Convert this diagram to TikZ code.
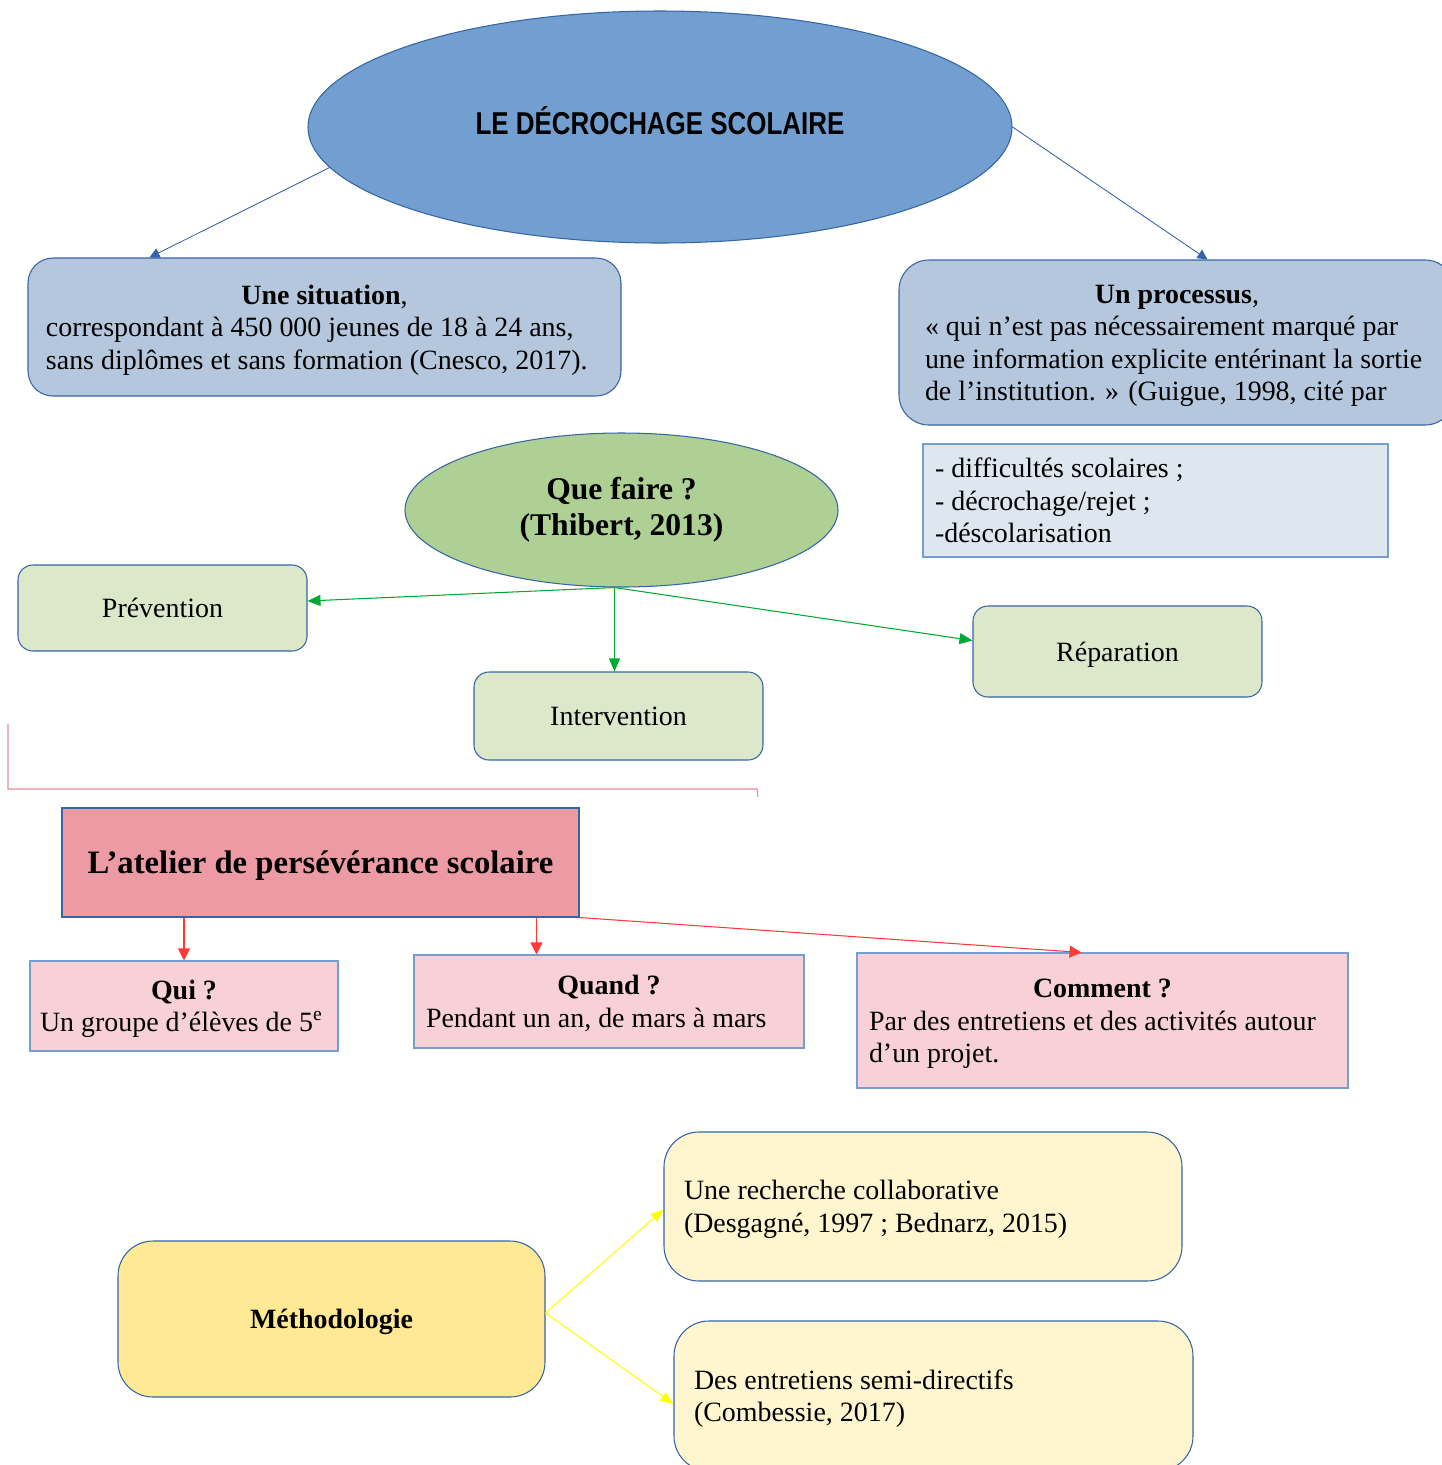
\documentclass[tikz,border=0pt]{standalone}
\usepackage{fontspec}
\setmainfont{Liberation Serif}
\newfontfamily\titlefont[FakeStretch=0.82]{Liberation Sans}
\usepackage{tikz}
\usetikzlibrary{calc,shapes.geometric,arrows.meta}
\definecolor{linkblue}{RGB}{52,101,164}
\definecolor{titleblue}{RGB}{114,159,207}
\definecolor{situationblue}{RGB}{180,199,220}
\definecolor{listblue}{RGB}{222,230,239}
\definecolor{qfgreen}{RGB}{175,208,149}
\definecolor{actiongreen}{RGB}{221,232,203}
\definecolor{arrowgreen}{RGB}{0,169,51}
\definecolor{atelierred}{RGB}{236,155,164}
\definecolor{questionpink}{RGB}{247,209,213}
\definecolor{arrowred}{RGB}{255,56,56}
\definecolor{strayred}{RGB}{228,140,150}
\definecolor{methodyellow}{RGB}{255,233,148}
\definecolor{sourceyellow}{RGB}{255,245,206}
\definecolor{arrowyellow}{RGB}{255,255,0}
\newlength\px
\setlength\px{0.02cm}

\begin{document}
\begin{tikzpicture}[x=0.02cm,y=-0.02cm,
    struts/.style={execute at begin node={\rule{0pt}{0.9em}},
      execute at end node={\rule[-0.22em]{0pt}{0pt}}},
    body/.style={font=\fontsize{15.9}{18.5}\selectfont,struts},
    textbox/.style={body,draw=linkblue,line width=0.6pt,align=flush left,inner ysep=0pt},
    actionbox/.style={body,draw=linkblue,line width=0.6pt,fill=actiongreen,
      rounded corners=0.3cm,minimum width=289*\px,align=center},
    questionbox/.style={textbox,draw=titleblue,fill=questionpink,inner xsep=12*\px},
    sourcebox/.style={textbox,fill=sourceyellow,rounded corners=0.7cm,
      minimum width=518*\px,minimum height=149*\px,text width=478*\px,inner xsep=20*\px},
    bluelink/.style={draw=linkblue,line width=0.5pt,-{Triangle[length=0.2cm,width=0.2cm]}},
    greenlink/.style={draw=arrowgreen,line width=0.6pt,-{Triangle[length=0.26cm,width=0.22cm]}},
    redlink/.style={draw=arrowred,line width=0.6pt,-{Triangle[length=0.24cm,width=0.24cm]}},
    yellowlink/.style={draw=arrowyellow,line width=0.6pt,-{Triangle[length=0.26cm,width=0.2cm]}}]
    \useasboundingbox (0,0) rectangle (1442,1465);

    % definition
    \node[ellipse,draw=linkblue,line width=0.6pt,fill=titleblue,
      minimum width=704*\px,minimum height=232*\px,
      font=\titlefont\bfseries\fontsize{18}{20}\selectfont] (titre) at (660,127)
      {\raisebox{13\px}{LE DÉCROCHAGE SCOLAIRE}};
    \node[textbox,fill=situationblue,rounded corners=0.5cm,
      minimum width=593*\px,minimum height=138*\px,text width=557*\px,inner xsep=18*\px]
      (situation) at (324.5,327)
      {{\centering\textbf{Une situation},\par}
       correspondant à 450 000 jeunes de 18 à 24 ans,\\
       sans diplômes et sans formation (Cnesco, 2017).};
    \node[textbox,fill=situationblue,rounded corners=0.6cm,
      minimum width=556*\px,minimum height=165*\px,text width=504*\px,inner xsep=26*\px]
      (processus) at (1177,342.5)
      {{\centering\textbf{Un processus},\par}
       « qui n’est pas nécessairement marqué par\\
       une information explicite entérinant la sortie\\
       de l’institution. » (Guigue, 1998, cité par};
    \node[textbox,draw=titleblue,fill=listblue,
      minimum width=465*\px,minimum height=113*\px,text width=441*\px,inner xsep=12*\px]
      (etapes) at (1155.5,500.5)
      {- difficultés scolaires ;\\
       - décrochage/rejet ;\\
       -déscolarisation};

    \draw[bluelink] (titre.187) -- ($(situation.north west)+(122,0)$);
    \draw[bluelink] (titre.east) -- ($(processus.north west)+(309,0)$);

    % que faire
    \node[ellipse,draw=linkblue,line width=0.6pt,fill=qfgreen,struts,
      minimum width=433*\px,minimum height=154*\px,align=center,
      font=\bfseries\fontsize{18}{20.5}\selectfont] (quefaire) at (621.5,510)
      {Que faire ?\\(Thibert, 2013)};
    \node[actionbox,minimum height=86*\px] (prevention) at (162.5,608) {Prévention};
    \node[actionbox,minimum height=88*\px] (intervention) at (618.5,716) {Intervention};
    \node[actionbox,minimum height=91*\px] (reparation) at (1117.5,651.5) {Réparation};

    \coordinate (depart) at ($(quefaire.south)+(-7,0)$);
    \draw[greenlink] (depart) -- ($(prevention.east)+(0,-7)$);
    \draw[greenlink] (depart) -- (depart |- intervention.north);
    \draw[greenlink] (depart) -- ($(reparation.west)+(0,-11)$);

    \draw[strayred,line width=0.6pt]
      (8,724) -- (8,789) -- (757,789) -- (758,797);

    % atelier
    \node[textbox,fill=atelierred,align=center,minimum width=517*\px,minimum height=109*\px,
      font=\bfseries\fontsize{18.6}{21}\selectfont] (atelier) at (320.5,862.5)
      {L’atelier de persévérance scolaire};
    \node[questionbox,minimum width=308*\px,minimum height=90*\px,text width=288*\px,
      inner xsep=10*\px] (qui) at (184,1006)
      {{\centering\textbf{Qui ?}\par}
       Un groupe d’élèves de 5\textsuperscript{e}};
    \node[questionbox,minimum width=390*\px,minimum height=93*\px,text width=366*\px]
      (quand) at (609,1001.5)
      {{\centering\textbf{Quand ?}\par}
       Pendant un an, de mars à mars};
    \node[questionbox,minimum width=491*\px,minimum height=135*\px,text width=467*\px]
      (comment) at (1102.5,1020.5)
      {{\centering\textbf{Comment ?}\par}
       Par des entretiens et des activités autour\\
       d’un projet.};

    \draw[redlink] (atelier.south -| qui.north) -- (qui.north);
    \draw[redlink] ($(atelier.south west)+(475,0)$) -- ($(quand.north west)+(123,0)$);
    \draw[redlink] (atelier.south east) -- ($(comment.north)+(-21,0)$);

    % methodologie
    \node[textbox,fill=methodyellow,rounded corners=0.7cm,align=center,
      minimum width=427*\px,minimum height=156*\px,font=\bfseries\fontsize{15.9}{18.5}\selectfont]
      (methodo) at (331.5,1319) {Méthodologie};
    \node[sourcebox] (recherche) at (923,1206.5)
      {Une recherche collaborative\\
       (Desgagné, 1997 ; Bednarz, 2015)};
    \node[sourcebox,minimum width=519*\px,minimum height=150*\px,text width=479*\px]
      (entretiens) at (933.5,1396)
      {Des entretiens semi-directifs\\
       (Combessie, 2017)};

    \draw[yellowlink] ($(methodo.east)+(0,-6)$) -- ($(recherche.west)+(0,3)$);
    \draw[yellowlink] ($(methodo.east)+(0,-6)$) -- ($(entretiens.west)+(0,8)$);
  \end{tikzpicture}
\end{document}
